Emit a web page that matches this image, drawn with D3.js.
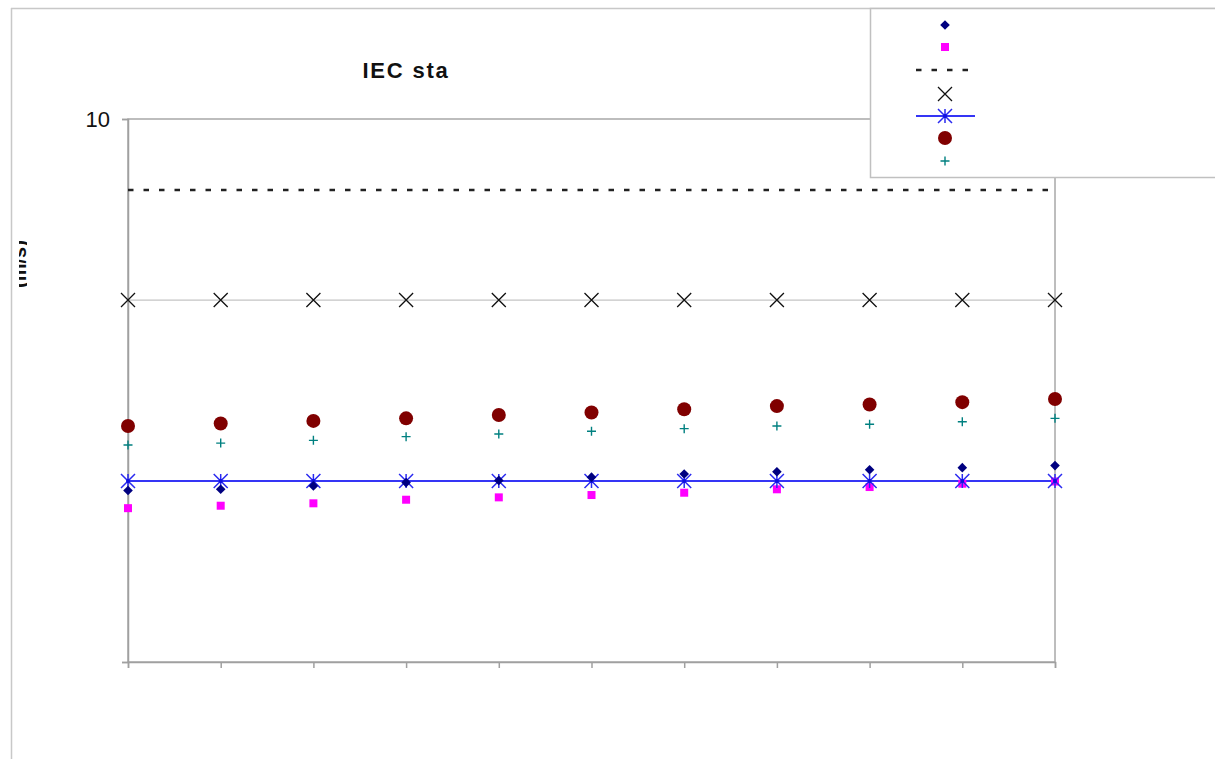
<!DOCTYPE html>
<html>
<head>
<meta charset="utf-8">
<script src="https://cdn.jsdelivr.net/npm/d3@7"></script>
<style>
  html, body { margin: 0; padding: 0; background: #fff; }
  svg { display: block; font-family: "Liberation Sans", Arial, sans-serif; }
</style>
</head>
<body>
<svg id="chart" width="1215" height="759"></svg>
<script>
// Positions along the x axis (eleven equally spaced steps)
const categories = ["1", "2", "3", "4", "5", "6", "7", "8", "9", "10", "11"];

// Measured series
const seriesDiamond = [2.07, 2.08, 2.11, 2.14, 2.16, 2.19, 2.22, 2.24, 2.26, 2.28, 2.30];
const seriesSquare  = [1.92, 1.94, 1.96, 1.99, 2.01, 2.03, 2.05, 2.08, 2.10, 2.13, 2.15];
const seriesCircle  = [2.72, 2.75, 2.78, 2.81, 2.85, 2.88, 2.92, 2.96, 2.98, 3.01, 3.05];
const seriesPlus    = [2.51, 2.53, 2.56, 2.60, 2.63, 2.66, 2.69, 2.72, 2.74, 2.77, 2.81];

// Reference levels
const seriesCross    = [4.64, 4.64, 4.64, 4.64, 4.64, 4.64, 4.64, 4.64, 4.64, 4.64, 4.64];
const seriesAsterisk = [2.154, 2.154, 2.154, 2.154, 2.154, 2.154, 2.154, 2.154, 2.154, 2.154, 2.154];
const dashedLevel = [7.40];

// Axis ticks
const yTickValues = [1, 10];
const yTickLabels = ["", "10"];

const title = "IEC sta";
const yAxisTitle = "(m/s)";

const svg = d3.select("#chart");

const plot = { left: 128, right: 1055, top: 119, bottom: 662 };

const x = d3.scalePoint().domain(categories).range([plot.left, plot.right]);
const y = d3.scaleLog().domain([1, 10]).range([plot.bottom, plot.top]);

// Outer frame (only top and left edges fall inside the page)
svg.append("line").attr("x1", 11).attr("x2", 1215).attr("y1", 8.5).attr("y2", 8.5)
  .attr("stroke", "#c8c8c8").attr("stroke-width", 1.5);
svg.append("line").attr("x1", 11.5).attr("x2", 11.5).attr("y1", 8).attr("y2", 759)
  .attr("stroke", "#c8c8c8").attr("stroke-width", 1.5);

// Plot border
svg.append("rect")
  .attr("x", plot.left).attr("y", plot.top)
  .attr("width", plot.right - plot.left).attr("height", plot.bottom - plot.top)
  .attr("fill", "none").attr("stroke", "#a8a8a8").attr("stroke-width", 1.5);

// Y axis
const yAxis = d3.axisLeft(y)
  .tickValues(yTickValues)
  .tickFormat((d, i) => yTickLabels[i])
  .tickSize(6).tickPadding(12);
const gy = svg.append("g").attr("transform", `translate(${plot.left},0)`).call(yAxis);
gy.select(".domain").attr("stroke", "#a0a0a0").attr("stroke-width", 1.5);
gy.selectAll(".tick line").attr("stroke", "#a0a0a0").attr("stroke-width", 1.5);
gy.selectAll(".tick text")
  .attr("font-size", 22).attr("fill", "#111")
  .attr("font-family", "'Liberation Sans', Arial, sans-serif")
  .attr("dy", "0.36em");

// X axis (tick marks only)
const xAxis = d3.axisBottom(x).tickFormat(() => "").tickSize(6);
const gx = svg.append("g").attr("transform", `translate(0,${plot.bottom})`).call(xAxis);
gx.select(".domain").attr("stroke", "#a0a0a0").attr("stroke-width", 1.5);
gx.selectAll(".tick line").attr("stroke", "#a0a0a0").attr("stroke-width", 1.5);

// Title
svg.append("text")
  .attr("x", 406).attr("y", 78)
  .attr("text-anchor", "middle")
  .attr("font-size", 22).attr("font-weight", "bold").attr("fill", "#111")
  .attr("letter-spacing", 1.8)
  .text(title);

// Y axis title, only a sliver of it shows
svg.append("clipPath").attr("id", "ytitle-clip")
  .append("rect").attr("x", 19).attr("y", 200).attr("width", 8).attr("height", 130);
svg.append("g")
  .attr("clip-path", "url(#ytitle-clip)")
  .append("text")
  .attr("transform", "translate(26,264) rotate(-90)")
  .attr("text-anchor", "middle")
  .attr("font-size", 20).attr("font-weight", "bold").attr("fill", "#111")
  .text(yAxisTitle);

// Marker shapes
const markers = {
  diamond: (g, s) => g.append("path").attr("d", `M0,${-s}L${s},0L0,${s}L${-s},0Z`),
  square:  (g, s) => g.append("rect").attr("x", -s).attr("y", -s).attr("width", 2 * s).attr("height", 2 * s),
  circle:  (g, s) => g.append("circle").attr("r", s),
  plus:    (g, s) => g.append("path").attr("d", `M${-s},0H${s}M0,${-s}V${s}`),
  cross:   (g, s) => g.append("path").attr("d", `M${-s},${-s}L${s},${s}M${-s},${s}L${s},${-s}`),
  asterisk:(g, s) => {
    g.append("path").attr("d", `M${-s},${-s}L${s},${s}M${-s},${s}L${s},${-s}M0,${-s}V${s}`);
    g.append("circle").attr("r", 2).attr("fill", "#1010e0").attr("stroke", "none");
  }
};

function drawMarker(g, kind, size, style) {
  const el = markers[kind](g, size);
  Object.entries(style).forEach(([k, v]) => g.attr(k, v));
  return el;
}

const styles = {
  diamond:  { shape: "diamond", size: 4.8, style: { fill: "#000080", stroke: "none" } },
  square:   { shape: "square", size: 4, style: { fill: "#ff00ff", stroke: "none" } },
  cross:    { shape: "cross", size: 7, style: { fill: "none", stroke: "#111", "stroke-width": 1.3 } },
  asterisk: { shape: "asterisk", size: 7, style: { fill: "none", stroke: "#2a2af0", "stroke-width": 1.5 } },
  circle:   { shape: "circle", size: 7, style: { fill: "#800000", stroke: "none" } },
  plus:     { shape: "plus", size: 4.5, style: { fill: "none", stroke: "#008080", "stroke-width": 1.4 } }
};

const line = d3.line().x((d, i) => x(categories[i])).y(d => y(d));

// Dashed limit level
svg.append("line")
  .attr("x1", plot.left).attr("x2", plot.right)
  .attr("y1", y(dashedLevel[0])).attr("y2", y(dashedLevel[0]))
  .attr("stroke", "#222").attr("stroke-width", 2.6).attr("stroke-dasharray", "5.5,10");

// Cross series with thin connecting line
svg.append("path").datum(seriesCross).attr("d", line)
  .attr("fill", "none").attr("stroke", "#c4c4c4").attr("stroke-width", 1.2);

// Asterisk series line
svg.append("path").datum(seriesAsterisk).attr("d", line)
  .attr("fill", "none").attr("stroke", "#3535f5").attr("stroke-width", 2);

function drawSeries(values, key) {
  const st = styles[key];
  values.forEach((v, i) => {
    const g = svg.append("g").attr("transform", `translate(${x(categories[i])},${y(v)})`);
    drawMarker(g, st.shape, st.size, st.style);
  });
}

drawSeries(seriesCross, "cross");
drawSeries(seriesCircle, "circle");
drawSeries(seriesPlus, "plus");
drawSeries(seriesSquare, "square");
drawSeries(seriesAsterisk, "asterisk");
drawSeries(seriesDiamond, "diamond");

// Legend
const legend = svg.append("g");
legend.append("rect")
  .attr("x", 870.5).attr("y", 8.5).attr("width", 360).attr("height", 169)
  .attr("fill", "#fff").attr("stroke", "#c0c0c0").attr("stroke-width", 1.5);

const legendX = 945;
const legendRows = [
  { key: "diamond", y: 25 },
  { key: "square", y: 47 },
  { key: "dashed", y: 70 },
  { key: "cross", y: 94 },
  { key: "asterisk", y: 116 },
  { key: "circle", y: 138 },
  { key: "plus", y: 161 }
];
legendRows.forEach(r => {
  if (r.key === "dashed") {
    legend.append("line").attr("x1", 916).attr("x2", 975).attr("y1", r.y).attr("y2", r.y)
      .attr("stroke", "#222").attr("stroke-width", 2.6).attr("stroke-dasharray", "5.5,10");
    return;
  }
  if (r.key === "asterisk") {
    legend.append("line").attr("x1", 916).attr("x2", 975).attr("y1", r.y).attr("y2", r.y)
      .attr("stroke", "#3535f5").attr("stroke-width", 2);
  }
  const st = styles[r.key];
  const g = legend.append("g").attr("transform", `translate(${legendX},${r.y})`);
  drawMarker(g, st.shape, st.size, st.style);
});
</script>
</body>
</html>
